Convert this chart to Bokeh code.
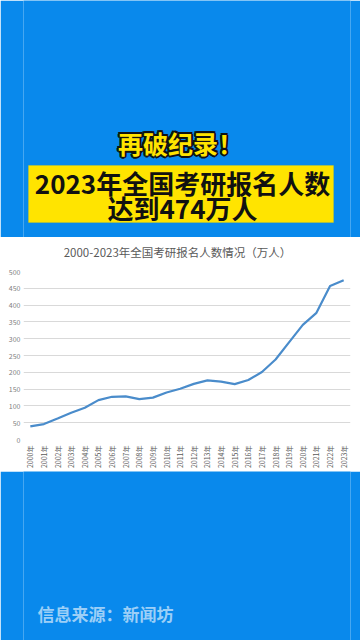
import math
from bokeh.plotting import figure
from bokeh.layouts import column
from bokeh.models import (ColumnDataSource, FactorRange, Range1d, Label, BoxAnnotation,
                          FixedTicker)
from bokeh.embed import file_html
from bokeh.resources import INLINE

# ---- data ----
years = [str(y) + "年" for y in range(2000, 2024)]
applicants = [39.2, 46.0, 62.4, 79.7, 94.5, 117.2, 127.1, 128.2, 120.0, 124.6, 140.0, 151.1,
              165.6, 176.0, 172.0, 164.9, 177.0, 201.0, 238.0, 290.0, 341.0, 377.0, 457.0, 474.0]
y_ticks = [0, 50, 100, 150, 200, 250, 300, 350, 400, 450, 500]

headline_1 = "再破纪录！"
headline_2 = "2023年全国考研报名人数"
headline_3 = "达到474万人"
chart_title = "2000-2023年全国考研报名人数情况（万人）"
source_text = "信息来源：新闻坊"

BLUE = "#0989EC"
YELLOW = "#FFE400"
CJK = "Noto Sans CJK SC"
W = 360
L, R = 23, 10            # chart frame borders (shared by every plot in the column)
H_TOP, H_TITLE, H_CHART, H_BOT = 237, 29, 205, 169


def panel(h, color):
    f = figure(width=W, height=h, x_range=Range1d(L, W - R), y_range=Range1d(0, h),
               x_axis_type=None, y_axis_type=None, output_backend="svg",
               toolbar_location=None, min_border=0, min_border_left=L, min_border_right=R)
    f.grid.visible = False
    f.outline_line_color = None
    f.background_fill_color = color
    f.border_fill_color = color
    return f


# ---- top banner ----
top = panel(H_TOP, BLUE)
top.add_layout(BoxAnnotation(left=28, right=333, bottom=15, top=72, fill_color=YELLOW,
                             fill_alpha=1, line_color="#E8D000", line_width=1))
for dx, dy in [(-2, 0), (2, 0), (0, -2), (0, 2), (-1.5, -1.5), (1.5, 1.5), (-1.5, 1.5), (1.5, -1.5)]:
    top.add_layout(Label(x=180 + dx, y=95 + dy, text=headline_1, text_align="center",
                         text_baseline="middle", text_font=CJK, text_font_style="bold",
                         text_font_size="25px", text_color="#111111"))
top.add_layout(Label(x=180, y=95, text=headline_1, text_align="center", text_baseline="middle",
                     text_font=CJK, text_font_style="bold", text_font_size="25px",
                     text_color=YELLOW))
top.add_layout(Label(x=182, y=55, text=headline_2, text_align="center", text_baseline="middle",
                     text_font=CJK, text_font_style="bold", text_font_size="26px",
                     text_color="#111111"))
top.add_layout(Label(x=182, y=30, text=headline_3, text_align="center", text_baseline="middle",
                     text_font=CJK, text_font_style="bold", text_font_size="26px",
                     text_color="#111111"))

# ---- chart title strip ----
tt = panel(H_TITLE, "white")
tt.add_layout(Label(x=177, y=15, text=chart_title, text_align="center", text_baseline="middle",
                    text_font=CJK, text_font_size="11.5px", text_color="#595959"))

# ---- chart ----
src = ColumnDataSource(dict(year=years, value=applicants))
p = figure(width=W, height=H_CHART, x_range=FactorRange(*years, range_padding=0),
           y_range=Range1d(0, 500), output_backend="svg", toolbar_location=None,
           min_border_left=L, min_border_right=R, min_border_top=5, min_border_bottom=32)
p.line("year", "value", source=src, line_color="#4A8CCB", line_width=2.2)
p.outline_line_color = None
p.background_fill_color = "white"
p.border_fill_color = "white"
p.xgrid.visible = False
p.ygrid.grid_line_color = "#D9D9D9"
p.ygrid.grid_line_width = 1
p.yaxis.ticker = FixedTicker(ticks=y_ticks)
for ax in (p.xaxis[0], p.yaxis[0]):
    ax.axis_line_color = None
    ax.major_tick_line_color = None
    ax.minor_tick_line_color = None
    ax.major_tick_out = 0
    ax.major_tick_in = 0
    ax.major_label_text_font = CJK
    ax.major_label_text_color = "#808080"
    ax.major_label_text_font_size = "7px"
p.yaxis.major_label_standoff = 3
p.xaxis.major_label_standoff = 6
p.xaxis.major_label_orientation = math.pi / 2
p.xaxis.major_label_text_color = "#595959"

# ---- bottom ----
bot = panel(H_BOT, BLUE)
bot.add_layout(Label(x=37, y=27, text=source_text, text_align="left", text_baseline="middle",
                     text_font=CJK, text_font_style="bold", text_font_size="17px",
                     text_color="#9CCFF7"))

layout = column(top, tt, p, bot, spacing=0)
open("out.html", "w").write(file_html(layout, INLINE))
